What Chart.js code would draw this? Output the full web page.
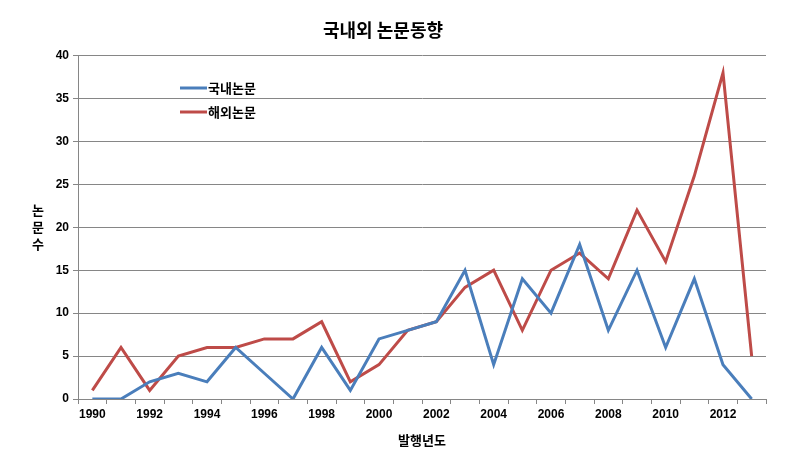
<!DOCTYPE html>
<html>
<head>
<meta charset="utf-8">
<script src="https://cdn.jsdelivr.net/npm/chart.js@4.4.0/dist/chart.umd.min.js"></script>
<style>
  html, body { margin: 0; padding: 0; background: #fff; }
  #wrap { width: 806px; height: 455px; position: relative; }
</style>
</head>
<body>
<div id="wrap"><canvas id="canvas"></canvas></div>
<script>
const years = ['1990','1991','1992','1993','1994','1995','1996','1997','1998','1999','2000','2001',
               '2002','2003','2004','2005','2006','2007','2008','2009','2010','2011','2012','2013'];
const domestic = [0, 0, 2, 3, 2, 6, 3, 0, 6, 1, 7, 8, 9, 15, 4, 14, 10, 18, 8, 15, 6, 14, 4, 0];
const overseas = [1, 6, 1, 5, 6, 6, 7, 7, 9, 2, 4, 8, 9, 13, 15, 8, 15, 17, 14, 22, 16, 26, 38, 5];
const seriesNames = ['국내논문', '해외논문'];
const yTitle = ['논', '문', '수'];

const korFont = '"Noto Sans CJK KR", "Noto Sans", sans-serif';
const tickFont = '"Liberation Sans Narrow", "Liberation Sans", Arial, sans-serif';

// legend + vertical y title drawn by hand
const extras = {
    id: 'extras',
    afterDraw(chart) {
        const c = chart.ctx;
        c.save();
        c.font = 'bold 13px ' + korFont;
        c.fillStyle = '#000';
        c.textAlign = 'center';
        c.textBaseline = 'middle';
        yTitle.forEach((ch, i) => c.fillText(ch, 38, 210 + i * 17));

        c.textAlign = 'left';
        chart.data.datasets.forEach((ds, i) => {
            const y = 88 + i * 24;
            c.strokeStyle = ds.borderColor;
            c.lineWidth = 3;
            c.beginPath();
            c.moveTo(180, y);
            c.lineTo(207, y);
            c.stroke();
            c.fillText(ds.label, 208, y);
        });
        c.restore();
    }
};

const ctx = document.getElementById('canvas').getContext('2d');
const myChart = new Chart(ctx, {
    type: 'line',
    data: {
        labels: years,
        datasets: [{
            label: seriesNames[0],
            data: domestic,
            borderColor: '#4a7ebb',
            backgroundColor: '#4a7ebb',
            borderWidth: 3,
            pointRadius: 0,
            tension: 0
        }, {
            label: seriesNames[1],
            data: overseas,
            borderColor: '#be4b48',
            backgroundColor: '#be4b48',
            borderWidth: 3,
            pointRadius: 0,
            tension: 0
        }]
    },
    options: {
        responsive: true,
        maintainAspectRatio: false,
        animation: false,
        layout: { padding: { left: 0, right: 40, top: 0, bottom: 7 } },
        plugins: {
            legend: { display: false },
            tooltip: { enabled: false },
            title: {
                display: true,
                text: '국내외 논문동향',
                color: '#000',
                font: { family: korFont, size: 18, weight: 'bold' },
                padding: { top: 19, bottom: 15 }
            }
        },
        scales: {
            x: {
                offset: true,
                grid: { display: true, drawOnChartArea: false, offset: true, color: '#868686', tickLength: 5 },
                border: { color: '#868686' },
                ticks: {
                    autoSkip: false,
                    maxRotation: 0,
                    color: '#000',
                    font: { family: tickFont, size: 12, weight: 'bold' },
                    callback: (v, i) => (i % 2 === 0 ? years[i] : '')
                },
                title: {
                    display: true,
                    text: '발행년도',
                    color: '#000',
                    font: { family: korFont, size: 13, weight: 'bold' },
                    padding: { top: 8, bottom: 0 }
                }
            },
            y: {
                min: 0,
                max: 40,
                afterFit: (s) => { s.width = 78; },
                grid: { color: '#868686', tickLength: 5 },
                border: { color: '#868686' },
                ticks: {
                    stepSize: 5,
                    color: '#000',
                    padding: 4,
                    font: { family: tickFont, size: 12, weight: 'bold' }
                }
            }
        }
    },
    plugins: [extras]
});
</script>
</body>
</html>
